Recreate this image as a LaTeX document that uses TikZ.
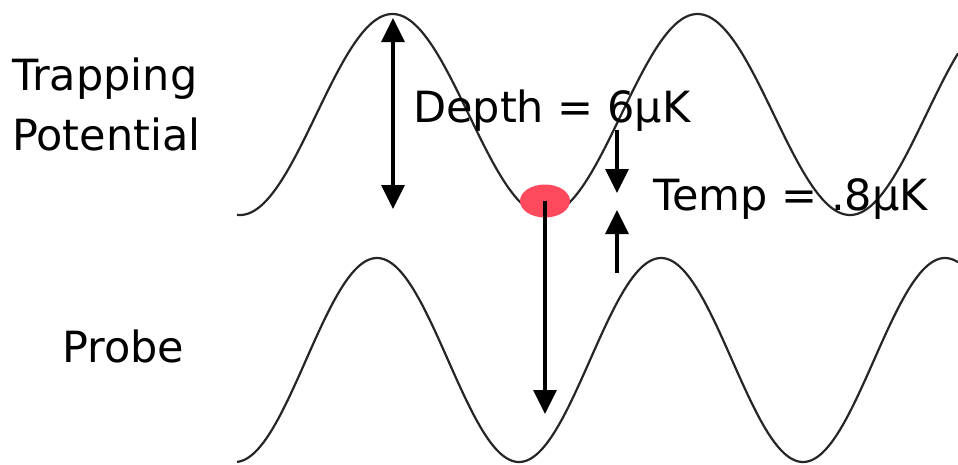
\documentclass[tikz,border=0pt]{standalone}
\usepackage{fontspec}
\setmainfont{DejaVu Sans}
\usetikzlibrary{arrows.meta, shapes.geometric}
\definecolor{atomred}{RGB}{255,74,94}

\begin{document}
\begin{tikzpicture}[x=1pt, y=-1pt,
    lbl/.style={anchor=base west, inner sep=0pt, font=\fontsize{43}{50}\selectfont},
    bigarrow/.style={line width=3.4pt, -{Triangle[width=23pt,length=24pt]}},
    wave/.style={line width=2.2pt, black!85, samples=300}]
    \useasboundingbox (0,0) rectangle (958,464);

    % trapping potential and probe
    \draw[wave, domain=237:958] plot (\x, {114.5+100.5*cos(1.1803*(\x-545))});
    \draw[wave, domain=237:958] plot (\x, {360-102*cos(1.2676*(\x-377))});

    \node[lbl] (trap) at (12,90) {Trapping};
    \node[lbl] (pot) at (12,150) {Potential};
    \node[lbl] (probe) at (62,362) {Probe};
    \node[lbl] (depth) at (413,122) {Depth = 6μK};
    \node[lbl] (temp) at (653,210) {Temp = .8μK};

    \node[ellipse, fill=atomred, minimum width=50pt, minimum height=33pt, inner sep=0pt] (atom) at (545,201) {};

    \coordinate (dtop) at (393,18);
    \coordinate (dbot) at (393,209);
    \coordinate (ptip) at (545,414);
    \coordinate (ta) at (617,130);
    \coordinate (tb) at (617,193);
    \coordinate (tc) at (617,273);
    \coordinate (td) at (617,210);

    \draw[bigarrow, {Triangle[width=23pt,length=24pt]}-{Triangle[width=23pt,length=24pt]}] (dtop) -- (dbot);
    \draw[bigarrow] (atom.center) -- (ptip);
    \draw[bigarrow] (ta) -- (tb);
    \draw[bigarrow] (tc) -- (td);
\end{tikzpicture}
\end{document}
